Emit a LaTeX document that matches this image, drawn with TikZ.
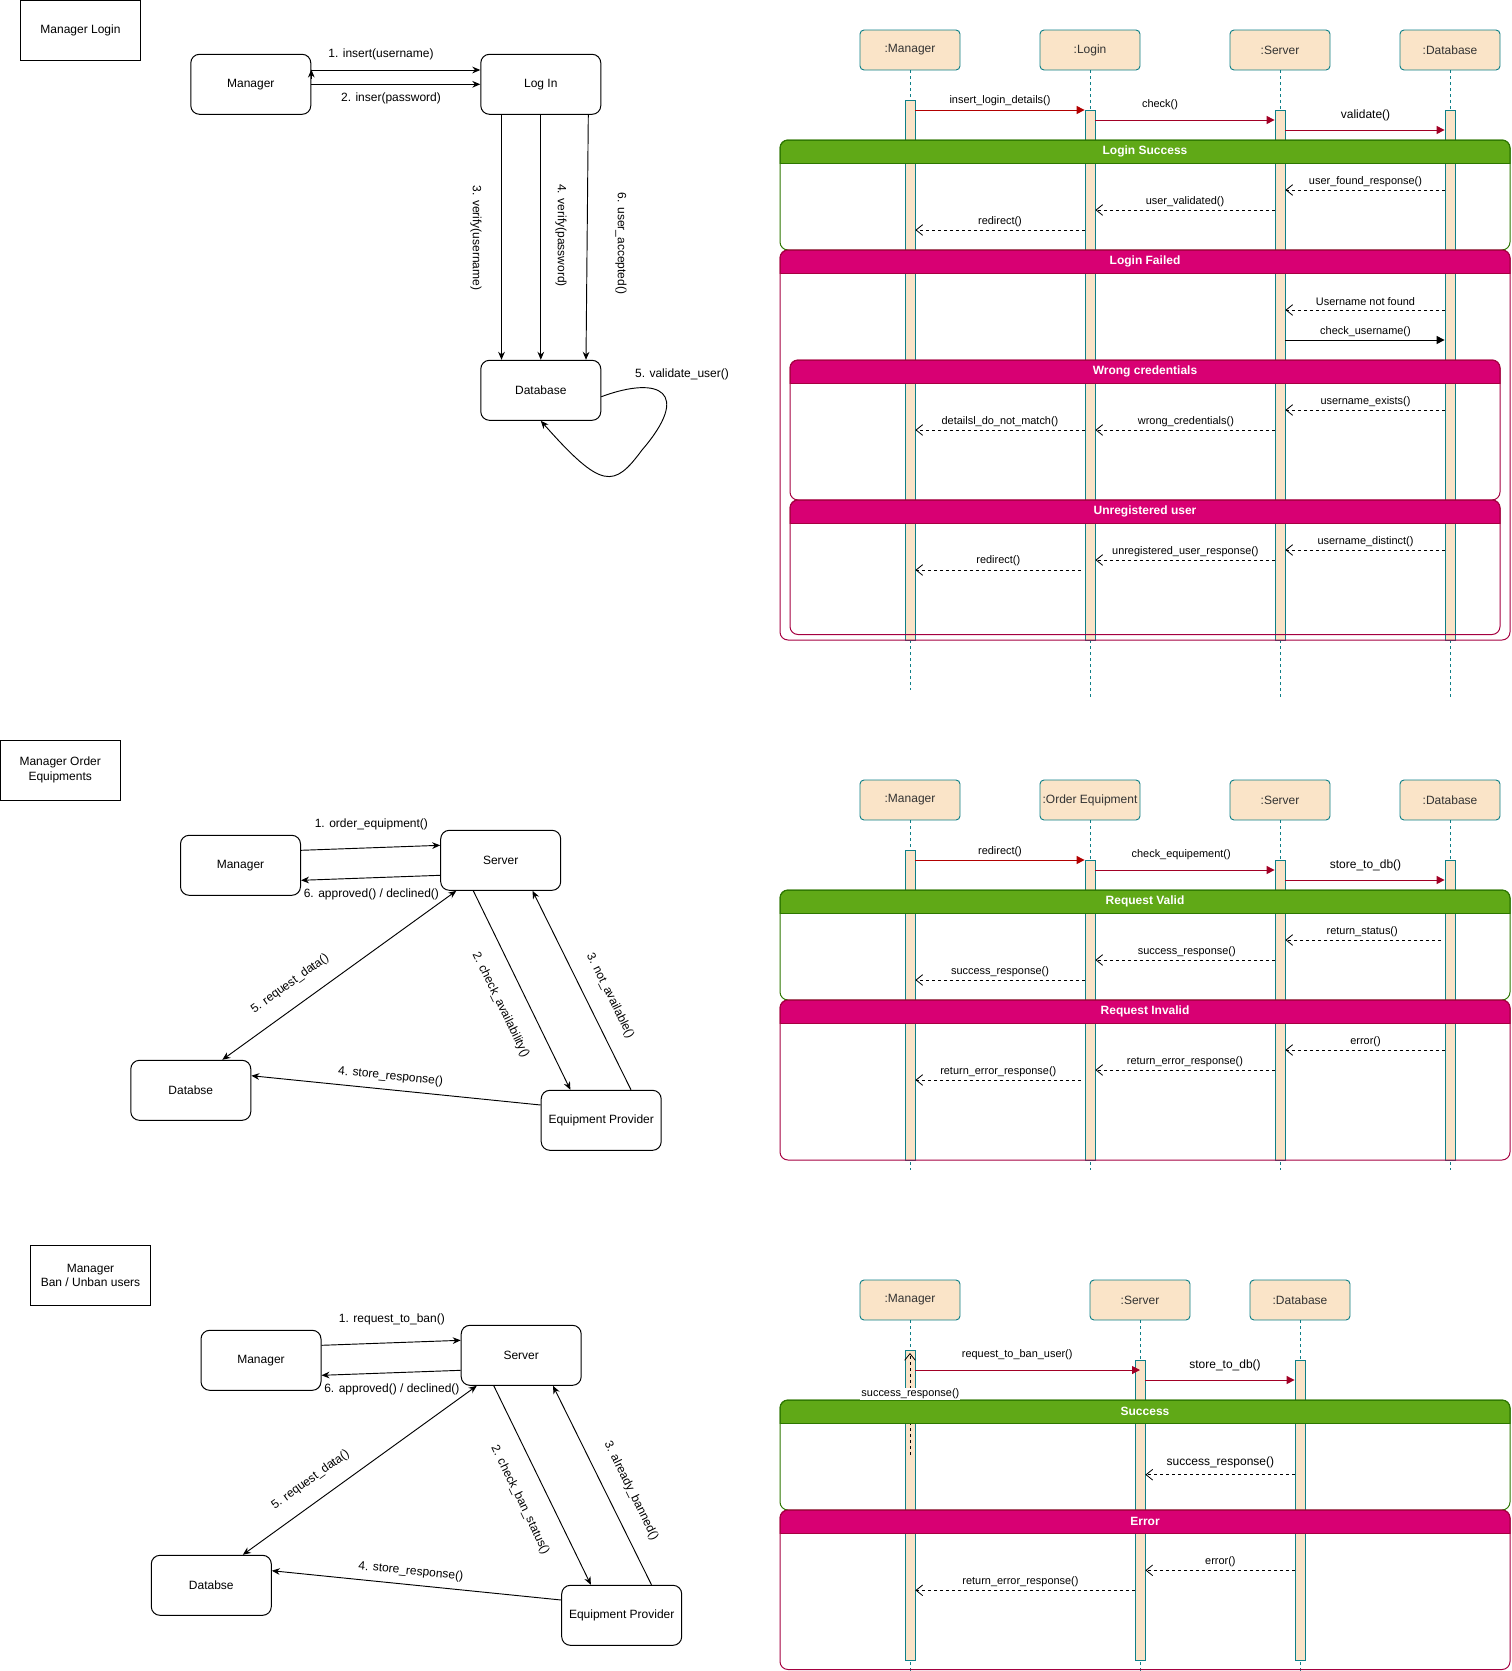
\documentclass[tikz,border=0pt]{standalone}
\usepackage{fontspec}
\setmainfont{Liberation Sans}
\usetikzlibrary{arrows.meta}

\definecolor{peach}{HTML}{FAE4C8}
\definecolor{tealc}{HTML}{0E8088}
\definecolor{grnf}{HTML}{60A917}
\definecolor{grnd}{HTML}{2D7600}
\definecolor{magf}{HTML}{D80073}
\definecolor{magd}{HTML}{A50040}
\definecolor{redm}{HTML}{B20000}
\definecolor{crim}{HTML}{A20025}
\definecolor{hdtxt}{HTML}{333333}

\tikzset{
  txt/.style={font=\fontsize{9}{11}\selectfont},
  cbox/.style={txt, draw, line width=0.75pt, rounded corners=6.5pt,
    minimum width=90pt, minimum height=45pt, inner sep=0pt},
  tbox/.style={txt, draw, line width=0.75pt, minimum width=90pt,
    minimum height=45pt, inner sep=0pt, align=center},
  carr/.style={line width=0.7pt, -{Stealth[length=6pt,width=5pt]}},
  cbi/.style={line width=0.7pt, {Stealth[length=6pt,width=5pt]}-{Stealth[length=6pt,width=5pt]}},
  clbl/.style={txt, inner sep=1pt},
  hd/.style={txt, draw=tealc, fill=peach, text=hdtxt, rounded corners=3pt,
    minimum width=75pt, minimum height=30pt, inner sep=0pt, line width=0.7pt},
  life/.style={draw=tealc, line width=0.6pt, dash pattern=on 2.25pt off 2.25pt},
  barst/.style={draw=tealc, fill=peach, minimum width=7.5pt, inner sep=0pt, line width=0.6pt},
  call/.style={draw=crim, line width=0.75pt, -{Triangle[length=6pt,width=6pt]}},
  callr/.style={call, draw=redm},
  sync/.style={draw=black, line width=0.75pt, -{Triangle[length=6pt,width=6pt]}},
  ret/.style={draw=black, line width=0.6pt, dash pattern=on 2.25pt off 2.25pt,
    -{Straight Barb[length=5pt,width=8pt,line width=0.6pt]}},
  mlbl/.style={font=\fontsize{8.2}{10}\selectfont, fill=white, inner sep=0.8pt},
  mlblL/.style={mlbl, font=\fontsize{9}{11}\selectfont},
  ftitle/.style={text=white, font=\bfseries\fontsize{9}{11}\selectfont, inner sep=0pt}
}

% activation bar: name, x, top, bottom
\newcommand\seqbar[4]{%
  \node[barst, minimum height={(#4-#3)*0.75pt}] (#1) at (#2,{(#3+#4)/2}) {};}

% combined fragment: name, x1, y1, x2, y2, header bottom, fill, border, title
\newcommand\seqframe[9]{%
  \begin{scope}
    \clip (#2-3,#3-3) rectangle (#4+3,#6);
    \filldraw[fill=#7, draw=#8, line width=0.75pt, rounded corners=6pt]
      (#2,#3) rectangle (#4,#6+15);
  \end{scope}
  \draw[#8, line width=0.75pt] (#2,#6) -- (#4,#6);
  \draw[#8, line width=0.75pt, rounded corners=6pt] (#2,#3) rectangle (#4,#5);
  \node[ftitle] (#1) at ({(#2+#4)/2},{(#3+#6)/2}) {#9};}

\begin{document}
\begin{tikzpicture}[x=0.75pt,y=-0.75pt]
\useasboundingbox (0,0) rectangle (1511,1671);

% ================= Manager login: collaboration =================
\node[tbox] (t1) at (80.5,30.5) {Manager Login};
\node[cbox] (m1) at (250.8,84.3) {Manager};
\node[cbox] (l1) at (540.8,84.3) {Log In};
\node[cbox] (d1) at (540.8,390.3) {Database};

\draw[carr] (m1.east |- 0,70) -- (l1.west |- 0,70);
\draw[carr] (m1.east |- 0,79) -- (m1.east |- 0,69.5);
\draw[carr] (m1.east |- 0,84.3) -- (l1.west |- 0,84.3);
\node[clbl] (a11) at (381,54.5) {1. insert(username)};
\node[clbl] (a12) at (391,98.5) {2. inser(password)};

\draw[carr] (l1.south -| 501.5,0) -- (d1.north -| 501.5,0);
\draw[carr] (l1.south) -- (d1.north);
\draw[carr] (l1.south -| 588.3,0) -- (d1.north -| 586,0);
\node[clbl, rotate=-90] (a13) at (476,238) {3. verify(username)};
\node[clbl, rotate=-90] (a14) at (561,235.5) {4. verify(password)};
\node[clbl, rotate=-90] (a16) at (621,243.5) {6. user\_accepted()};

\draw[carr] (d1.east |- 0,396.7) .. controls (660,375) and (692,392) .. (642,450)
  .. controls (614,488) and (602,490) .. (d1.south);
\node[clbl] (a15) at (682,374.5) {5. validate\_user()};

% ================= Manager login: sequence =================
\node[hd] (h1m) at (910,50) {:Manager};
\node[hd] (h1l) at (1090,50) {:Login};
\node[hd] (h1s) at (1280,50) {:Server};
\node[hd] (h1d) at (1450,50) {:Database};
\draw[life] (h1m.south) -- (h1m.south |- 0,690);
\draw[life] (h1l.south) -- (h1l.south |- 0,697);
\draw[life] (h1s.south) -- (h1s.south |- 0,697);
\draw[life] (h1d.south) -- (h1d.south |- 0,697);
\seqbar{b1m}{910}{100}{640}
\seqbar{b1l}{1090}{110}{640}
\seqbar{b1s}{1280}{110}{640}
\seqbar{b1d}{1450}{110}{640}

\seqframe{f11}{780}{140}{1510}{250}{163.5}{grnf}{grnd}{Login Success}
\seqframe{f12}{780}{250}{1510}{640}{273.5}{magf}{magd}{Login Failed}
\seqframe{f13}{790}{360}{1500}{500}{383.5}{magf}{magd}{Wrong credentials}
\seqframe{f14}{790}{500}{1500}{634.5}{523.5}{magf}{magd}{Unregistered user}

\draw[callr] (b1m.east |- 0,110) -- (b1l.west |- 0,110);
\node[mlbl] (n101) at (1000,101) {insert\_login\_details()};
\draw[call] (b1l.east |- 0,120) -- (b1s.west |- 0,120);
\node[mlbl] (n102) at (1160,104.3) {check()};
\draw[call] (b1s.east |- 0,130) -- (b1d.west |- 0,130);
\node[mlblL] (n103) at (1365.5,115) {validate()};

\draw[ret] (b1d.west |- 0,190) -- (b1s.east |- 0,190);
\node[mlbl] (n104) at (1365.5,181.7) {user\_found\_response()};
\draw[ret] (b1s.west |- 0,210) -- (b1l.east |- 0,210);
\node[mlbl] (n105) at (1185,201.7) {user\_validated()};
\draw[ret] (b1l.west |- 0,230) -- (b1m.east |- 0,230);
\node[mlbl] (n106) at (1000,221.7) {redirect()};

\draw[ret] (b1d.west |- 0,310) -- (b1s.east |- 0,310);
\node[mlbl] (n107) at (1365.5,301.3) {Username not found};
\draw[sync] (b1s.east |- 0,340) -- (b1d.west |- 0,340);
\node[mlbl] (n108) at (1365.5,331.5) {check\_username()};

\draw[ret] (b1d.west |- 0,410) -- (b1s.east |- 0,410);
\node[mlbl] (n109) at (1365.5,401.3) {username\_exists()};
\draw[ret] (b1s.west |- 0,430) -- (b1l.east |- 0,430);
\node[mlbl] (n110) at (1185.9,421.3) {wrong\_credentials()};
\draw[ret] (b1l.west |- 0,430) -- (b1m.east |- 0,430);
\node[mlbl] (n111) at (1000,421.3) {detailsl\_do\_not\_match()};

\draw[ret] (b1d.west |- 0,550) -- (b1s.east |- 0,550);
\node[mlbl] (n112) at (1365.5,541.3) {username\_distinct()};
\draw[ret] (b1s.west |- 0,560) -- (b1l.east |- 0,560);
\node[mlbl] (n113) at (1185.4,551.3) {unregistered\_user\_response()};
\coordinate (r1) at (1080.5,570);
\draw[ret] (r1) -- (b1m.east |- 0,570);
\node[mlbl] (n114) at (998.3,561) {redirect()};

% ================= Order equipments: collaboration =================
\node[tbox] (t2) at (60.2,770.2) {Manager Order\\Equipments};
\node[cbox] (m2) at (240.5,865.3) {Manager};
\node[cbox] (s2) at (500.7,860.3) {Server};
\node[cbox] (d2) at (190.8,1090.3) {Databse};
\node[cbox] (e2) at (601.2,1120.3) {Equipment Provider};

\draw[carr] (m2.east |- 0,850.3) -- (s2.west |- 0,845.3);
\draw[carr] (s2.west |- 0,875.3) -- (m2.east |- 0,880.3);
\draw[cbi] (d2.north -| 222.3,0) -- (s2.south -| 456.3,0);
\draw[carr] (s2.south -| 473.3,0) -- (e2.north -| 570.4,0);
\draw[carr] (e2.north -| 631,0) -- (s2.south -| 532.5,0);
\draw[carr] (e2.west |- 0,1105) -- (d2.east |- 0,1075.7);

\node[clbl] (a21) at (371.4,824.5) {1. order\_equipment()};
\node[clbl] (a26) at (371.4,894.5) {6. approved() / declined()};
\node[clbl, rotate=35.8] (a25) at (290,984) {5. request\_data()};
\node[clbl, rotate=-64.1] (a22) at (500.5,1005) {2. check\_availability()};
\node[clbl, rotate=-63.8] (a23) at (610,995.5) {3. not\_available()};
\node[clbl, rotate=-5.75] (a24) at (390.5,1076.5) {4. store\_response()};

% ================= Order equipments: sequence =================
\node[hd] (h2m) at (910,800) {:Manager};
\node[hd] (h2o) at (1090,800) {:Order Equipment};
\node[hd] (h2s) at (1280,800) {:Server};
\node[hd] (h2d) at (1450,800) {:Database};
\draw[life] (h2m.south) -- (h2m.south |- 0,1170);
\draw[life] (h2o.south) -- (h2o.south |- 0,1170);
\draw[life] (h2s.south) -- (h2s.south |- 0,1170);
\draw[life] (h2d.south) -- (h2d.south |- 0,1170);
\seqbar{b2m}{910}{850}{1160}
\seqbar{b2o}{1090}{860}{1160}
\seqbar{b2s}{1280}{860}{1160}
\seqbar{b2d}{1450}{860}{1160}

\seqframe{f21}{780}{890}{1510}{1000}{913.5}{grnf}{grnd}{Request Valid}
\seqframe{f22}{780}{1000}{1510}{1160}{1023.5}{magf}{magd}{Request Invalid}

\draw[callr] (b2m.east |- 0,860) -- (b2o.west |- 0,860);
\node[mlbl] (n201) at (1000,851.3) {redirect()};
\draw[call] (b2o.east |- 0,870) -- (b2s.west |- 0,870);
\node[mlbl] (n202) at (1181.2,854.3) {check\_equipement()};
\draw[call] (b2s.east |- 0,880) -- (b2d.west |- 0,880);
\node[mlblL] (n203) at (1365.5,865) {store\_to\_db()};

\coordinate (r2) at (1441,940);
\draw[ret] (r2) -- (b2s.east |- 0,940);
\node[mlbl] (n204) at (1362.2,931.7) {return\_status()};
\draw[ret] (b2s.west |- 0,960) -- (b2o.east |- 0,960);
\node[mlbl] (n205) at (1186.8,951.7) {success\_response()};
\draw[ret] (b2o.west |- 0,980) -- (b2m.east |- 0,980);
\node[mlbl] (n206) at (1000,971.7) {success\_response()};

\draw[ret] (b2d.west |- 0,1050) -- (b2s.east |- 0,1050);
\node[mlbl] (n207) at (1365.5,1041.7) {error()};
\draw[ret] (b2s.west |- 0,1070) -- (b2o.east |- 0,1070);
\node[mlbl] (n208) at (1185,1061.7) {return\_error\_response()};
\coordinate (r3) at (1080.5,1080);
\draw[ret] (r3) -- (b2m.east |- 0,1080);
\node[mlbl] (n209) at (998.3,1071.7) {return\_error\_response()};

% ================= Ban / unban users: collaboration =================
\node[tbox] (t3) at (90.5,1275.3) {Manager\\Ban / Unban users};
\node[cbox] (m3) at (261,1360.3) {Manager};
\node[cbox] (s3) at (521.2,1355.3) {Server};
\node[cbox] (d3) at (211.3,1585.3) {Databse};
\node[cbox] (e3) at (621.7,1615.3) {Equipment Provider};

\draw[carr] (m3.east |- 0,1345.3) -- (s3.west |- 0,1340.3);
\draw[carr] (s3.west |- 0,1370.3) -- (m3.east |- 0,1375.3);
\draw[cbi] (d3.north -| 242.8,0) -- (s3.south -| 476.8,0);
\draw[carr] (s3.south -| 493.8,0) -- (e3.north -| 590.9,0);
\draw[carr] (e3.north -| 651.5,0) -- (s3.south -| 553,0);
\draw[carr] (e3.west |- 0,1600) -- (d3.east |- 0,1570.7);

\node[clbl] (a31) at (391.9,1319.5) {1. request\_to\_ban()};
\node[clbl] (a36) at (391.9,1389.5) {6. approved() / declined()};
\node[clbl, rotate=35.8] (a35) at (310.5,1480) {5. request\_data()};
\node[clbl, rotate=-64.1] (a32) at (520,1500) {2. check\_ban\_status()};
\node[clbl, rotate=-63.8] (a33) at (631,1491) {3. already\_banned()};
\node[clbl, rotate=-5.75] (a34) at (410.8,1571.6) {4. store\_response()};

% ================= Ban / unban users: sequence =================
\node[hd] (h3m) at (910,1300) {:Manager};
\node[hd] (h3s) at (1140,1300) {:Server};
\node[hd] (h3d) at (1300,1300) {:Database};
\draw[life] (h3m.south) -- (h3m.south |- 0,1671);
\draw[life] (h3s.south) -- (h3s.south |- 0,1671);
\draw[life] (h3d.south) -- (h3d.south |- 0,1671);
\seqbar{b3m}{910}{1350}{1660}
\seqbar{b3s}{1140}{1360}{1660}
\seqbar{b3d}{1300}{1360}{1660}

\draw[ret] (b3m.center |- 0,1455) -- (b3m.center |- 0,1353);

\seqframe{f31}{780}{1400}{1510}{1510}{1423.5}{grnf}{grnd}{Success}
\seqframe{f32}{780}{1510}{1510}{1669.5}{1533.5}{magf}{magd}{Error}

\node[mlbl] (n300) at (910.4,1393.7) {success\_response()};
\draw[call] (b3m.east |- 0,1370) -- (b3s.center |- 0,1370);
\node[mlbl] (n301) at (1017.2,1354.7) {request\_to\_ban\_user()};
\draw[call] (b3s.east |- 0,1380) -- (b3d.west |- 0,1380);
\node[mlblL] (n302) at (1225,1365) {store\_to\_db()};

\draw[ret] (b3d.west |- 0,1474.7) -- (b3s.east |- 0,1474.7);
\node[mlblL] (n303) at (1220.4,1462.7) {success\_response()};
\draw[ret] (b3d.west |- 0,1570.3) -- (b3s.east |- 0,1570.3);
\node[mlbl] (n304) at (1220.4,1561.7) {error()};
\draw[ret] (b3s.west |- 0,1590.3) -- (b3m.east |- 0,1590.3);
\node[mlbl] (n305) at (1020.5,1581.7) {return\_error\_response()};

\end{tikzpicture}
\end{document}
